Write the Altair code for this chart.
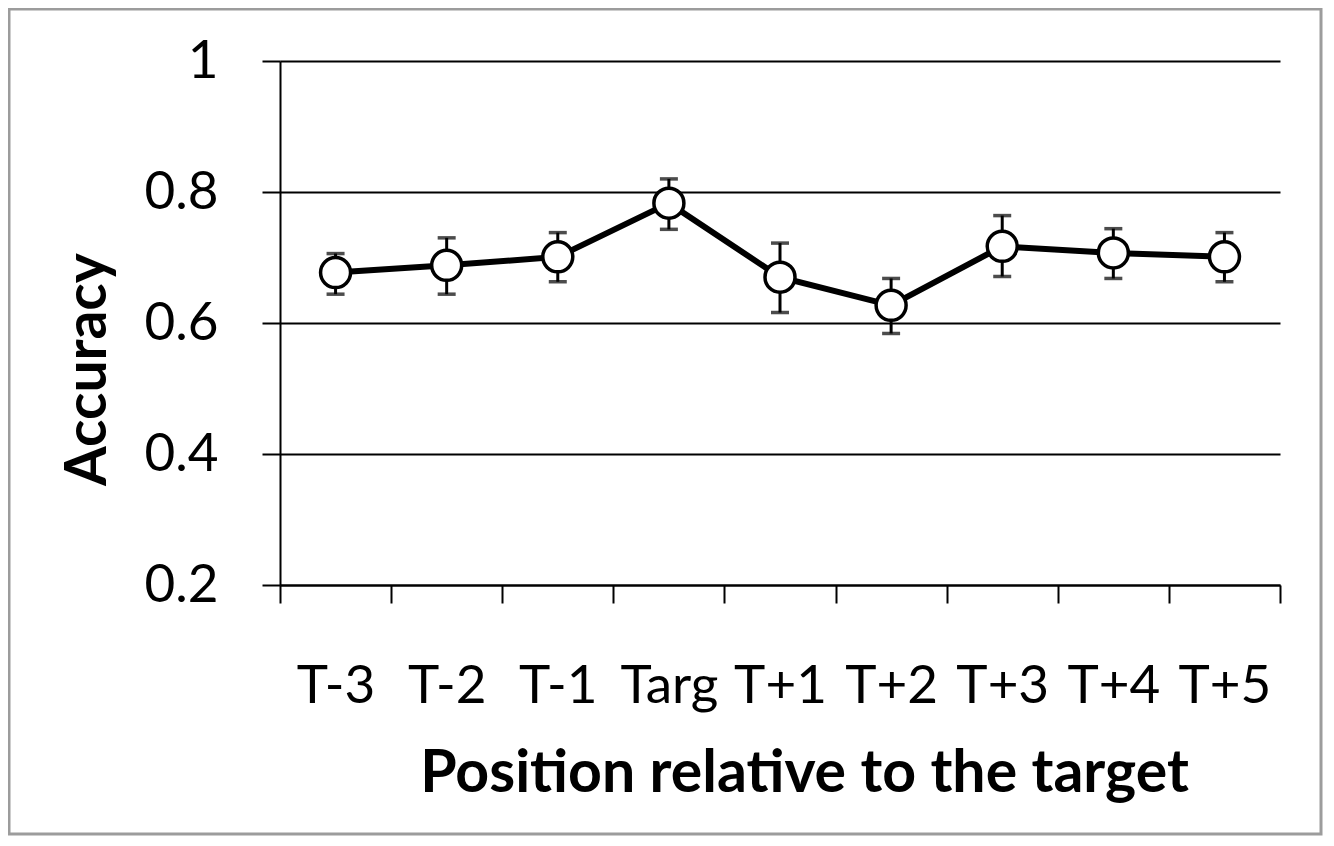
import altair as alt
import pandas as pd

positions = ["T-3", "T-2", "T-1", "Targ", "T+1", "T+2", "T+3", "T+4", "T+5"]
accuracy = [0.677, 0.688, 0.701, 0.783, 0.670, 0.627, 0.717, 0.707, 0.701]
err_low = [0.644, 0.644, 0.663, 0.743, 0.616, 0.584, 0.671, 0.668, 0.663]
err_high = [0.706, 0.730, 0.738, 0.820, 0.722, 0.668, 0.764, 0.744, 0.738]
y_ticks = [0.2, 0.4, 0.6, 0.8, 1.0]

df = pd.DataFrame({"pos": positions, "acc": accuracy, "lo": err_low, "hi": err_high})

FONT = "Lato"

x_enc = alt.X(
    "pos:N",
    sort=positions,
    scale=alt.Scale(paddingInner=0, paddingOuter=0),
    axis=alt.Axis(
        title="Position relative to the target",
        tickBand="extent",
        tickSize=18,
        tickWidth=2,
        tickColor="black",
        domainColor="black",
        domainWidth=2,
        labelFont=FONT,
        labelFontSize=53,
        labelColor="black",
        labelPadding=57,
        labelAngle=0,
        grid=False,
        titleFont=FONT,
        titleFontSize=59,
        titleFontWeight="bold",
        titleColor="black",
        titleX=524,
        titleY=206,
        titleAlign="center",
        titleBaseline="alphabetic",
    ),
)

y_scale = alt.Scale(domain=[0.2, 1.0], nice=False, zero=False)
y_axis = alt.Axis(
    title="Accuracy",
    values=y_ticks,
    format=".1~f",
    tickSize=18,
    tickWidth=2,
    tickColor="black",
    domainColor="black",
    domainWidth=2,
    grid=True,
    gridColor="black",
    gridWidth=2.2,
    gridOpacity=1,
    labelFont=FONT,
    labelFontSize=53,
    labelColor="black",
    labelPadding=44,
    titleFont=FONT,
    titleFontSize=57,
    titleFontWeight="bold",
    titleColor="black",
    titleAngle=270,
    titleX=-192,
    titleY=308,
    titleAlign="center",
    titleBaseline="middle",
)

base = alt.Chart(df)

bars = base.mark_rule(color="black", strokeWidth=3).encode(
    x=x_enc,
    y=alt.Y("lo:Q", scale=y_scale, axis=y_axis),
    y2="hi:Q",
)
cap_lo = base.mark_tick(color="black", size=18, thickness=3.5).encode(
    x=alt.X("pos:N", sort=positions), y=alt.Y("lo:Q")
)
cap_hi = base.mark_tick(color="black", size=18, thickness=3.5).encode(
    x=alt.X("pos:N", sort=positions), y=alt.Y("hi:Q")
)
line = base.mark_line(color="black", strokeWidth=6).encode(
    x=alt.X("pos:N", sort=positions), y=alt.Y("acc:Q")
)
points = base.mark_point(
    shape="circle", filled=True, fill="white", fillOpacity=1,
    stroke="black", strokeWidth=3.5, size=900, opacity=1
).encode(x=alt.X("pos:N", sort=positions), y=alt.Y("acc:Q"))

frame = alt.Chart(pd.DataFrame({"f": [0]})).mark_rect(
    fill="transparent", stroke="#9c9c9c", strokeWidth=3
).encode(
    x=alt.value(-271), x2=alt.value(1041), y=alt.value(-52), y2=alt.value(773)
)

chart = alt.layer(frame, bars, cap_lo, cap_hi, line, points).properties(
    width=1000,
    height=524,
    autosize=alt.AutoSizeParams(type="none"),
    padding={"left": 272, "top": 53, "right": 44, "bottom": 252},
    background="white",
).configure_view(stroke=None)

chart.save("out.html", embed_options={"renderer": "svg", "actions": False})
